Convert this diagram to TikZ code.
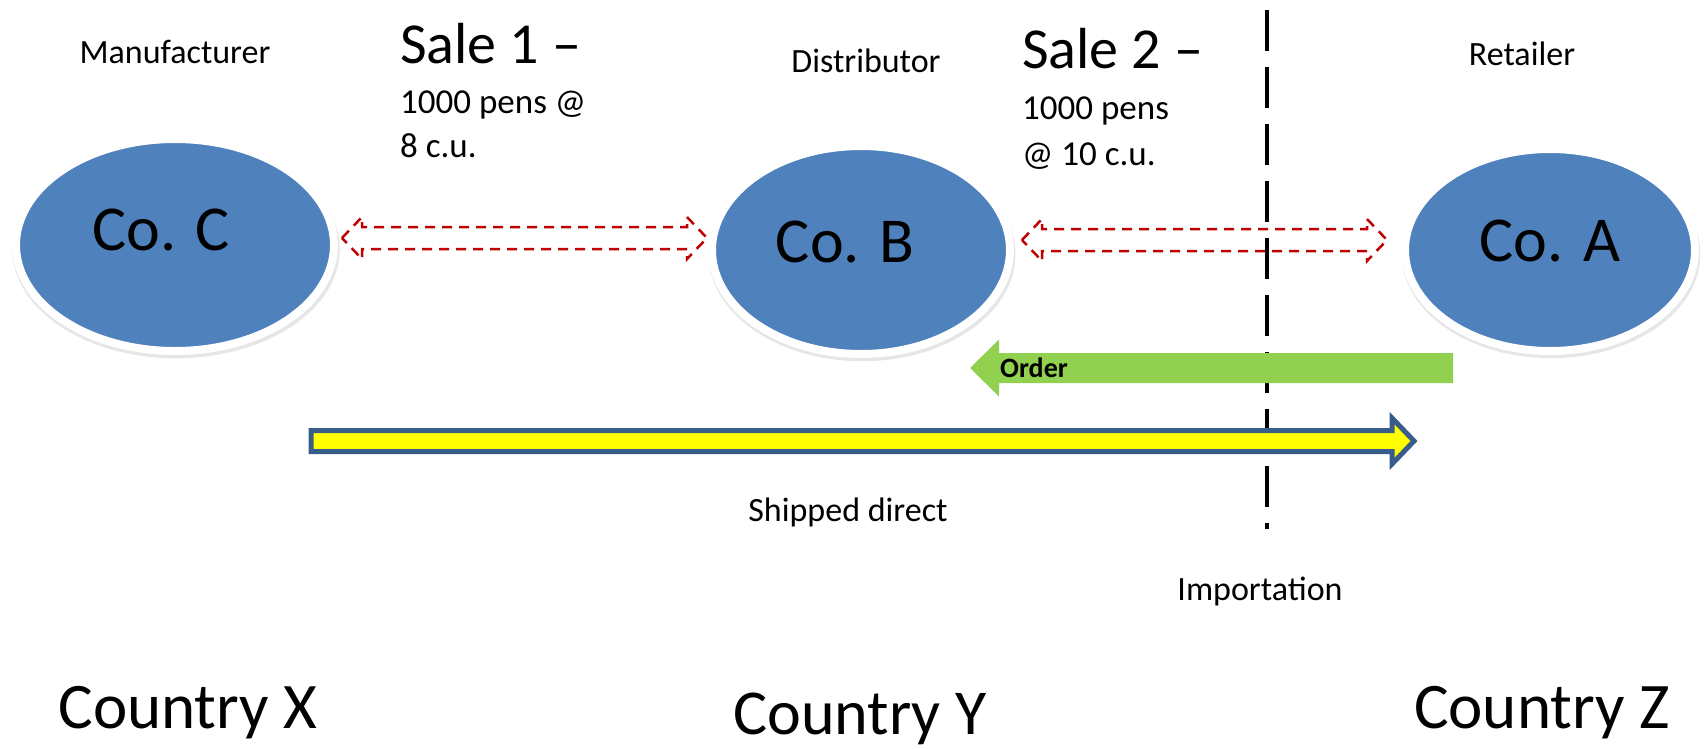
\documentclass[tikz,border=0pt]{standalone}
\usepackage{fontspec}
\setmainfont{Carlito}
\usetikzlibrary{calc, shapes.geometric, shadows}
\definecolor{myblue}{RGB}{79, 129, 189}
\definecolor{mygreen}{RGB}{146, 208, 80}
\definecolor{myyellow}{RGB}{255, 255, 0}
\definecolor{mynavy}{RGB}{56, 93, 138}
\definecolor{myred}{RGB}{192, 0, 0}

% block arrow: style, tail, tip, half shaft, head length (signed), half head
\newcommand{\blockarrow}[6]{%
  \path[#1] ($(#2)+(0,-#4)$) -- ($(#3)+({-1*(#5)},-#4)$) -- ($(#3)+({-1*(#5)},-#6)$)
    -- (#3) -- ($(#3)+({-1*(#5)},#6)$) -- ($(#3)+({-1*(#5)},#4)$) -- ($(#2)+(0,#4)$) -- cycle;}
% outlined double arrow between two tips
\newcommand{\dealarrow}[2]{%
  \draw[deal] (#1) -- ($(#1)+(20,-21)$) -- ($(#1)+(20,-11)$) -- ($(#2)+(-20,-11)$)
    -- ($(#2)+(-20,-21)$) -- (#2) -- ($(#2)+(-20,21)$) -- ($(#2)+(-20,11)$)
    -- ($(#1)+(20,11)$) -- ($(#1)+(20,21)$) -- cycle;}

\begin{document}
\begin{tikzpicture}[
    x=1pt, y=-1pt,
    firm/.style={ellipse, fill=myblue, draw=white, line width=8pt, inner sep=0pt,
        drop shadow={opacity=0.2, shadow scale=1.03, shadow xshift=1pt, shadow yshift=-4pt}},
    firmname/.style={anchor=base, inner sep=0pt, font=\fontsize{64}{76}\selectfont},
    role/.style={anchor=base, inner sep=0pt, font=\fontsize{34}{40}\selectfont},
    sale/.style={anchor=base west, inner sep=0pt, font=\fontsize{58}{70}\selectfont},
    terms/.style={anchor=base west, inner sep=0pt, font=\fontsize{35}{42}\selectfont},
    country/.style={anchor=base, inner sep=0pt, font=\fontsize{65}{78}\selectfont},
    deal/.style={draw=myred, line width=2.5pt, dash pattern=on 10pt off 7pt, line join=miter},
    order/.style={fill=mygreen},
    ship/.style={fill=myyellow, draw=mynavy, line width=5pt, line join=miter},
    border/.style={line width=4pt, dash pattern=on 41pt off 16pt}
]
\useasboundingbox (0,0) rectangle (1708,748);

% Companies
\node[firm, minimum width=318pt, minimum height=212pt] (coC) at (175,245) {};
\node[firm, minimum width=298pt, minimum height=208pt] (coB) at (861,250) {};
\node[firm, minimum width=290pt, minimum height=202pt] (coA) at (1550,250) {};
\node[firmname] (coCname) at (161,250) {Co. C};
\node[firmname] (coBname) at (845,262) {Co. B};
\node[firmname] (coAname) at (1550,261) {Co. A};

% Roles
\node[role] (maker) at (175,63) {Manufacturer};
\node[role] (distributor) at (866,72) {Distributor};
\node[role] (retailer) at (1522,65) {Retailer};

% Sales
\node[sale] (sale1) at (400,63) {Sale 1 –};
\node[terms] (sale1qty) at (400,113) {1000 pens @};
\node[terms] (sale1price) at (400,157) {8 c.u.};
\node[sale] (sale2) at (1022,68) {Sale 2 –};
\node[terms] (sale2qty) at (1022,119) {1000 pens};
\node[terms] (sale2price) at (1022,165) {@ 10 c.u.};

% Border
\coordinate (borderTop) at (1267,10);
\coordinate (borderBot) at (1267,529);
\draw[border] (borderTop) -- (borderBot);
\node[role] (import) at (1260,600) {Importation};

% Sale arrows
\coordinate (deal1L) at (342,238);
\coordinate (deal1R) at (707,238);
\coordinate (deal2L) at (1022,240);
\coordinate (deal2R) at (1387,240);
\dealarrow{deal1L}{deal1R}
\dealarrow{deal2L}{deal2R}

% Order and shipment
\coordinate (orderTail) at (1453,368);
\coordinate (orderTip) at (970,368);
\blockarrow{order}{orderTail}{orderTip}{15}{-29}{28.5}
\node[anchor=base west, inner sep=0pt, font=\fontsize{28}{33}\selectfont\bfseries] (orderText) at (1000,377) {Order};

\coordinate (shipTail) at (311,441);
\coordinate (shipTip) at (1414,441);
\blockarrow{ship}{shipTail}{shipTip}{10.5}{22}{23}
\node[role] (shipText) at (848,521) {Shipped direct};

% Countries
\node[country] (countryX) at (188,728) {Country X};
\node[country, font=\fontsize{64}{76}\selectfont] (countryY) at (860,734) {Country Y};
\node[country] (countryZ) at (1542,728) {Country Z};

\end{tikzpicture}
\end{document}
